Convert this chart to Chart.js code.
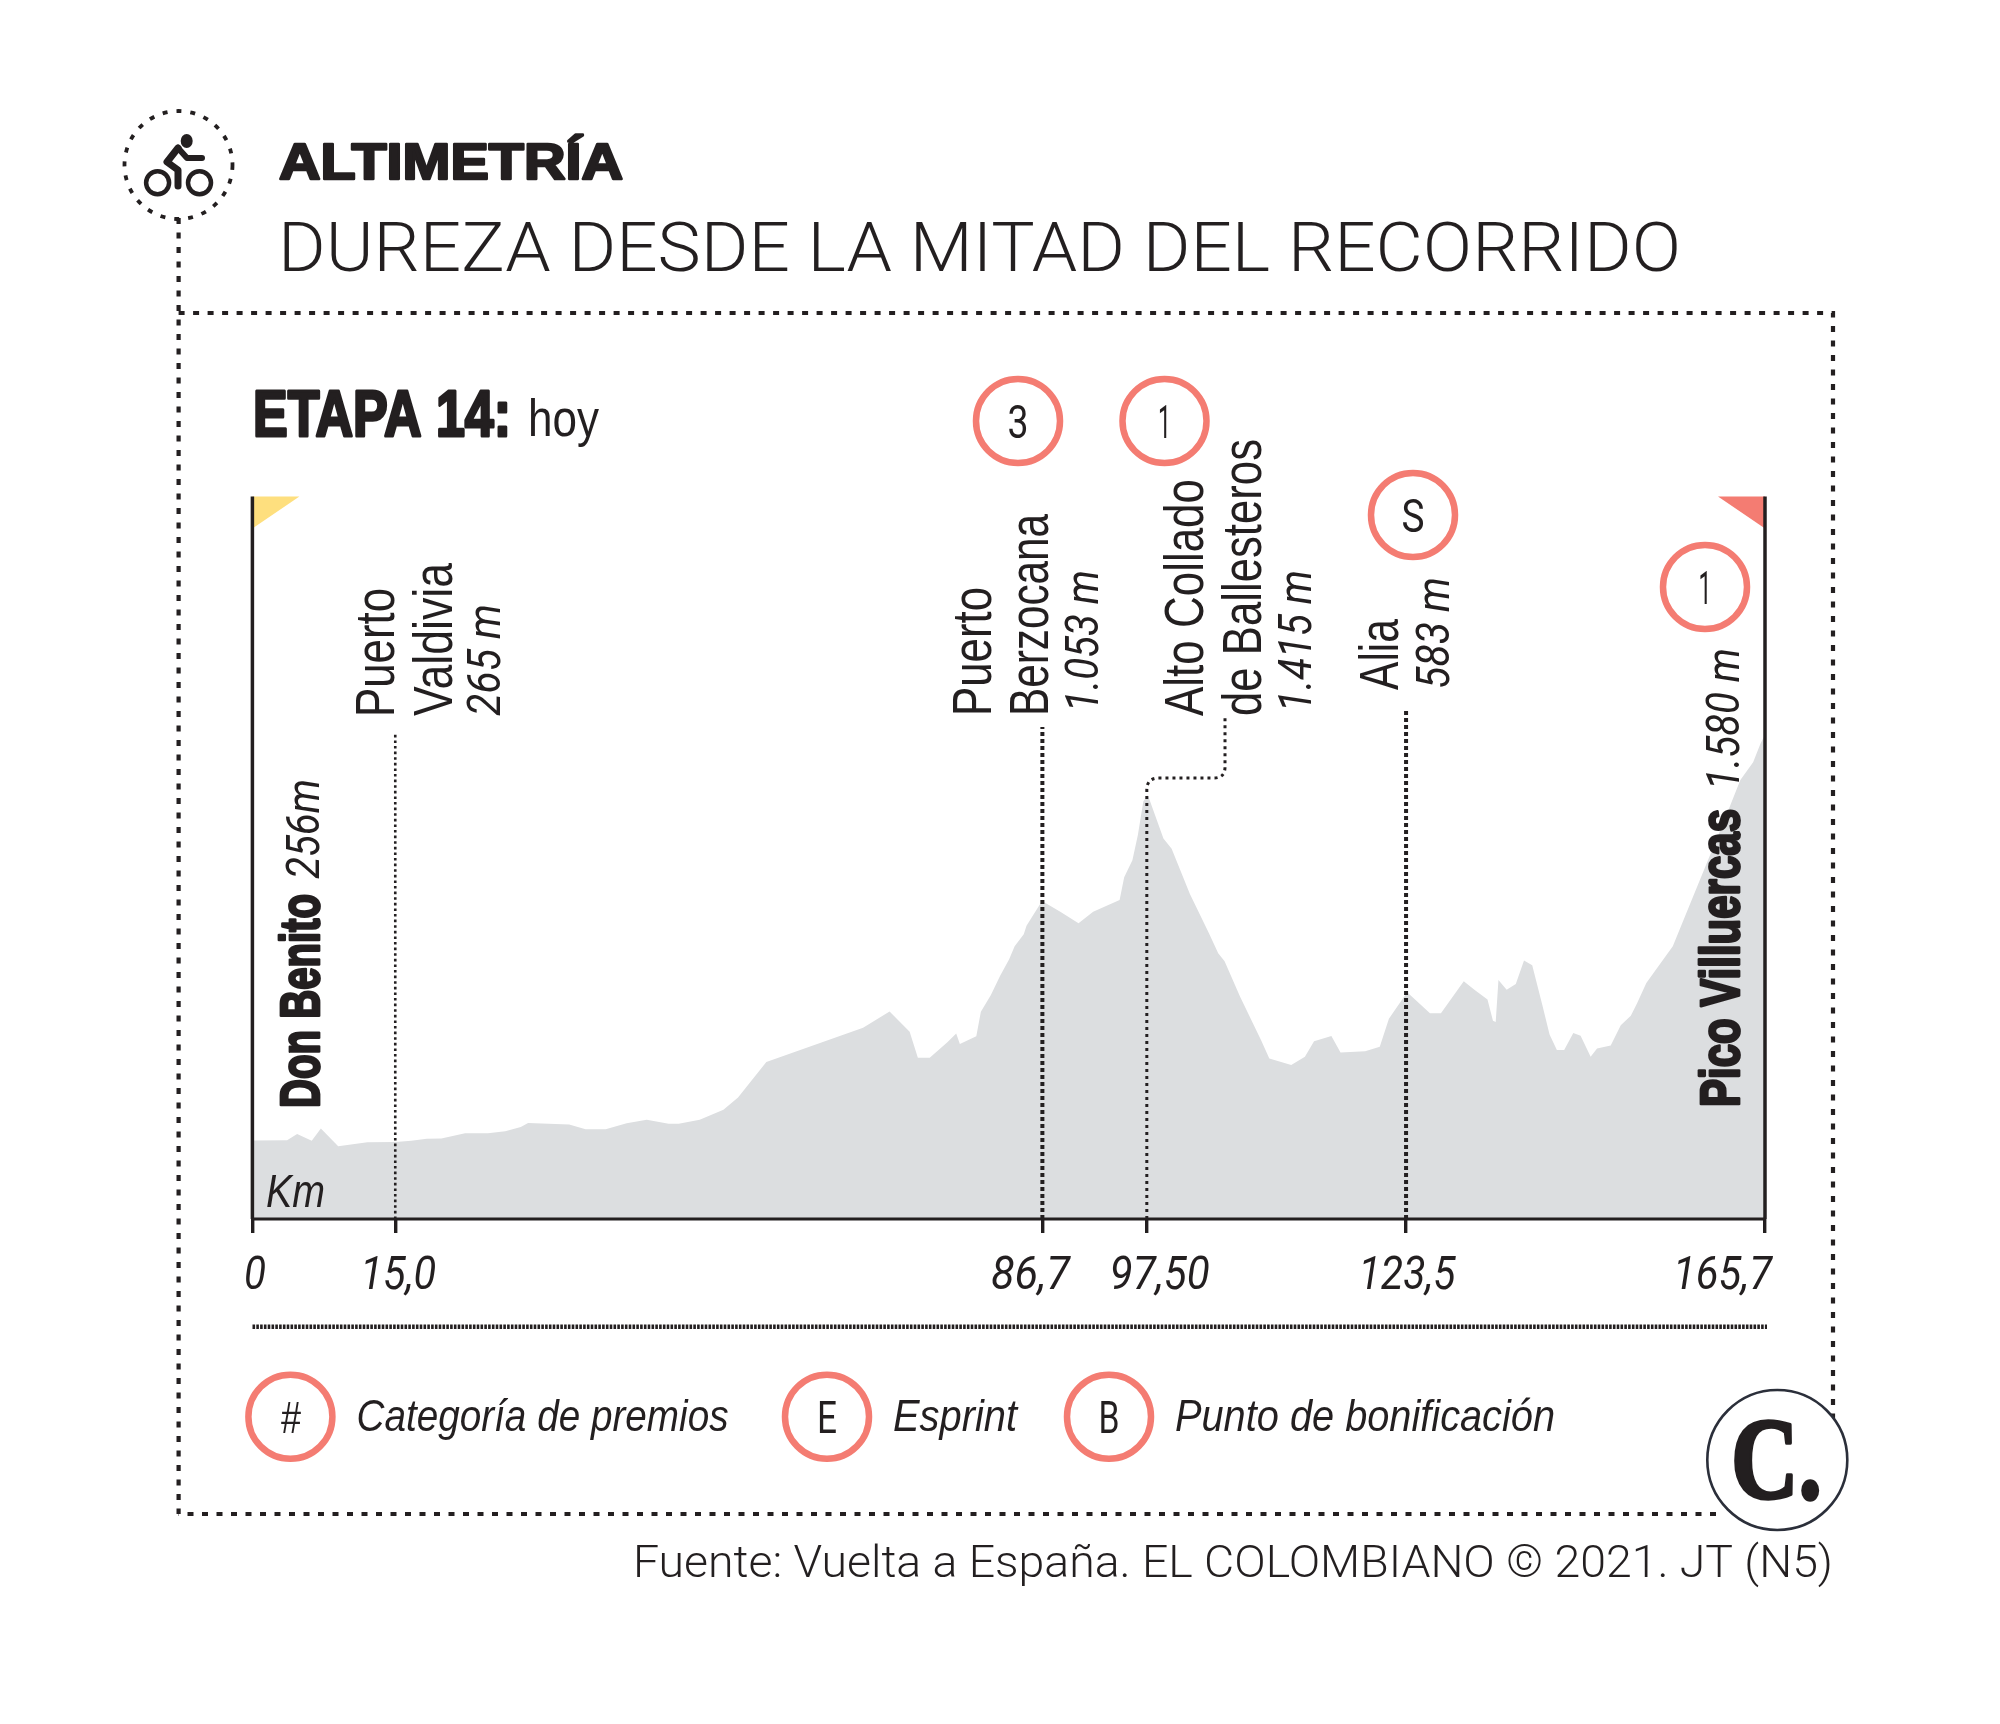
<!DOCTYPE html>
<html lang="es">
<head>
<meta charset="utf-8">
<title>Altimetría etapa 14</title>
<script src="https://cdn.jsdelivr.net/npm/chart.js@4/dist/chart.umd.min.js"></script>
<style>
    html, body { margin: 0; padding: 0; background: #fff; }
    canvas { display: block; }
</style>
</head>
<body>
<canvas id="profileChart" width="2000" height="1724"></canvas>
<script>
// Profile: km along the stage, altitude in metres
const profileKm = [0, 3.8, 4.9, 6.5, 7.5, 9.4, 12.6, 15.7, 17.4, 19.1, 20.7, 23.3, 25.8, 27.7, 29.4, 30.2, 34.7, 36.5, 38.7, 41.0, 43.2, 45.6, 46.7, 49.0, 51.6, 53.2, 56.3, 66.9, 69.8, 72.0, 72.9, 74.2, 76.1, 77.1, 77.5, 79.3, 79.8, 80.9, 81.9, 82.9, 83.5, 84.5, 84.8, 86.5, 88.5, 90.5, 92.1, 95.0, 95.5, 96.4, 97.0, 97.6, 98.1, 99.8, 100.7, 102.7, 104.8, 105.8, 106.5, 108.2, 110.5, 111.4, 113.8, 115.3, 116.3, 118.2, 119.2, 121.9, 123.5, 124.5, 126.5, 129.0, 130.2, 132.7, 133.9, 135.3, 135.9, 136.2, 136.5, 137.4, 138.4, 139.3, 140.2, 141.3, 142.1, 142.9, 143.7, 144.7, 145.5, 146.6, 147.3, 148.8, 149.9, 151.0, 151.7, 152.7, 155.6, 157.4, 160.2, 161.9, 163.0, 164.4, 165.2, 165.7];
const profileAlt = [256, 257, 277, 255, 295, 237, 250, 251, 255, 262, 263, 280, 280, 286, 300, 313, 308, 293, 293, 312, 324, 311, 311, 324, 356, 396, 512, 624, 677, 611, 526, 526, 576, 605, 571, 596, 676, 731, 793, 847, 890, 929, 957, 1037, 1002, 965, 1002, 1041, 1115, 1170, 1253, 1363, 1382, 1241, 1208, 1060, 931, 867, 841, 725, 583, 524, 502, 529, 580, 597, 543, 547, 562, 653, 740, 671, 671, 776, 747, 716, 647, 643, 780, 748, 767, 843, 828, 699, 602, 551, 551, 607, 598, 529, 556, 566, 632, 663, 705, 770, 890, 1021, 1225, 1350, 1432, 1490, 1550, 1580];

// The printed km marks are not quite to scale, so the tick sits where it was drawn
const tickKm = [0, 15.65, 86.54, 97.98, 126.38, 165.7];
const tickLabels = ['0', '15,0', '86,7', '97,50', '123,5', '165,7'];
const altMax = 2357;

const INK = '#231f20';
const CORAL = '#f47c72';
const SAND = '#fedf7e';

function fitText(ctx, str, x, y, font, width, opts) {
    opts = opts || {};
    ctx.save();
    ctx.font = font;
    const scaleX = width / ctx.measureText(str).width;
    ctx.translate(x, y);
    if (opts.vertical) ctx.rotate(-Math.PI / 2);
    ctx.scale(scaleX, 1);
    ctx.fillStyle = INK;
    ctx.textBaseline = 'alphabetic';
    ctx.textAlign = 'left';
    ctx.fillText(str, 0, 0);
    if (opts.stroke) {
        ctx.strokeStyle = INK;
        ctx.lineWidth = opts.stroke;
        ctx.lineJoin = 'round';
        ctx.strokeText(str, 0, 0);
    }
    ctx.restore();
}

function dotted(ctx, points, width, dash) {
    ctx.save();
    ctx.strokeStyle = INK;
    ctx.lineWidth = width;
    ctx.setLineDash(dash);
    ctx.beginPath();
    points.forEach((p, i) => i ? ctx.lineTo(p[0], p[1]) : ctx.moveTo(p[0], p[1]));
    ctx.stroke();
    ctx.restore();
}

function badge(ctx, x, y, str, font, width) {
    ctx.save();
    ctx.strokeStyle = CORAL;
    ctx.lineWidth = 6.5;
    ctx.beginPath();
    ctx.arc(x, y, 42, 0, Math.PI * 2);
    ctx.stroke();
    ctx.restore();
    fitText(ctx, str, x - width / 2, y + 16.5, font, width);
}

function drawIcon(ctx) {
    ctx.save();
    ctx.strokeStyle = INK;
    ctx.lineWidth = 3.8;
    ctx.setLineDash([5, 9]);
    ctx.beginPath();
    ctx.arc(178.5, 165, 54, 0, Math.PI * 2);
    ctx.stroke();
    ctx.setLineDash([]);
    ctx.lineWidth = 4.5;
    [157.6, 199.5].forEach(x => {
        ctx.beginPath();
        ctx.arc(x, 182.7, 11.5, 0, Math.PI * 2);
        ctx.stroke();
    });
    ctx.lineCap = 'round';
    ctx.lineJoin = 'round';
    ctx.lineWidth = 7;
    ctx.beginPath();
    ctx.moveTo(178, 148);
    ctx.lineTo(167, 162);
    ctx.lineTo(178, 170);
    ctx.lineTo(178, 186);
    ctx.stroke();
    ctx.lineWidth = 6;
    ctx.beginPath();
    ctx.moveTo(178, 148);
    ctx.lineTo(187, 158);
    ctx.lineTo(202, 158);
    ctx.stroke();
    ctx.fillStyle = INK;
    ctx.beginPath();
    ctx.ellipse(186.7, 141, 6, 7, 0, 0, Math.PI * 2);
    ctx.fill();
    ctx.restore();
}

const pagePlugin = {
    id: 'pagePlugin',
    afterDraw(chart) {
        const ctx = chart.ctx;
        const x = chart.scales.x;
        const area = chart.chartArea;
        const dash = [6, 8.5];
        const SANS = '"Liberation Sans"';

        // Page frame
        dotted(ctx, [[178.6, 218], [178.6, 1514]], 4.2, dash);
        dotted(ctx, [[178.6, 313], [1833, 313], [1833, 1420]], 4.2, dash);
        dotted(ctx, [[1716, 1514], [178.6, 1514]], 4.2, dash);
        drawIcon(ctx);

        // Headings
        fitText(ctx, 'ALTIMETRÍA', 279, 179, 'bold 50px ' + SANS, 344, { stroke: 2.4 });
        fitText(ctx, 'DUREZA DESDE LA MITAD DEL RECORRIDO', 278, 270.7, '300 68px Roboto', 1403);
        fitText(ctx, 'ETAPA 14:', 253, 435.7, 'bold 64px ' + SANS, 258, { stroke: 3 });
        fitText(ctx, 'hoy', 528, 435.7, '52px ' + SANS, 71);

        // Start and finish flags, end walls of the profile
        ctx.save();
        ctx.fillStyle = SAND;
        ctx.beginPath();
        ctx.moveTo(area.left, area.top);
        ctx.lineTo(area.left + 47, area.top);
        ctx.lineTo(area.left, area.top + 32);
        ctx.fill();
        ctx.fillStyle = CORAL;
        ctx.beginPath();
        ctx.moveTo(area.right, area.top);
        ctx.lineTo(area.right - 47, area.top);
        ctx.lineTo(area.right, area.top + 32);
        ctx.fill();
        ctx.strokeStyle = INK;
        ctx.lineWidth = 3.5;
        [area.left, area.right].forEach(px => {
            ctx.beginPath();
            ctx.moveTo(px, area.top);
            ctx.lineTo(px, area.bottom);
            ctx.stroke();
        });
        ctx.lineWidth = 3;
        ctx.beginPath();
        ctx.moveTo(area.left, area.bottom);
        ctx.lineTo(area.right, area.bottom);
        ctx.stroke();
        ctx.restore();

        // Leader lines from the km marks up to the names
        dotted(ctx, [[x.getPixelForValue(tickKm[1]), area.bottom], [x.getPixelForValue(tickKm[1]), 733]], 2.6, [2.6, 3]);
        dotted(ctx, [[x.getPixelForValue(tickKm[2]), area.bottom], [x.getPixelForValue(tickKm[2]), 727]], 4, [4, 3]);
        dotted(ctx, [[x.getPixelForValue(tickKm[4]), area.bottom], [x.getPixelForValue(tickKm[4]), 708]], 4, [4, 3]);
        const px = x.getPixelForValue(tickKm[3]);
        ctx.save();
        ctx.strokeStyle = INK;
        ctx.lineWidth = 3;
        ctx.setLineDash([3, 4]);
        ctx.beginPath();
        ctx.moveTo(px, area.bottom);
        ctx.lineTo(px, 790);
        ctx.quadraticCurveTo(px, 778, px + 12, 778);
        ctx.lineTo(1214, 778);
        ctx.quadraticCurveTo(1225, 778, 1225, 767);
        ctx.lineTo(1225, 718);
        ctx.stroke();
        ctx.restore();

        // Place names
        const NAME = '56px ' + SANS;
        const ALT = 'italic 46px Roboto';
        const BOLD = 'bold 55px ' + SANS;
        const v = { vertical: true };
        const heavy = { vertical: true, stroke: 2.8 };
        fitText(ctx, 'Don Benito', 319.3, 1108, BOLD, 214, heavy);
        fitText(ctx, '256m', 319.3, 879, ALT, 100, v);
        fitText(ctx, 'Puerto', 394, 717, NAME, 129, v);
        fitText(ctx, 'Valdivia', 452, 716, NAME, 153, v);
        fitText(ctx, '265 m', 500, 716, ALT, 112, v);
        fitText(ctx, 'Puerto', 991, 716, NAME, 129, v);
        fitText(ctx, 'Berzocana', 1048, 716, NAME, 202, v);
        fitText(ctx, '1.053 m', 1098.4, 712, ALT, 142, v);
        fitText(ctx, 'Alto Collado', 1203.4, 716, NAME, 237, v);
        fitText(ctx, 'de Ballesteros', 1261, 716, NAME, 277, v);
        fitText(ctx, '1.415 m', 1311, 712, ALT, 142, v);
        fitText(ctx, 'Alia', 1397.5, 690, NAME, 71, v);
        fitText(ctx, '583 m', 1448.6, 689, ALT, 112, v);
        fitText(ctx, 'Pico Villuercas', 1739, 1107, BOLD, 298, heavy);
        fitText(ctx, '1.580 m', 1739, 790, ALT, 142, v);
        fitText(ctx, 'Km', 266, 1207, 'italic 47px ' + SANS, 59);

        // Category badges
        const BADGE = '47px Roboto';
        badge(ctx, 1018, 421, '3', BADGE, 21);
        badge(ctx, 1164.5, 421, '1', BADGE, 13);
        badge(ctx, 1413, 515, 'S', BADGE, 23);
        badge(ctx, 1705, 587, '1', BADGE, 13);

        // Km labels: each one is nudged off its tick, as in the print
        const labelShift = [2.6, 3, -12, 13, 1, -42.5];
        const labelWidth = [22, 76, 79, 100, 97, 99];
        const TICK = 'italic 46px Roboto';
        tickLabels.forEach((label, i) => {
            const cx = x.getPixelForValue(tickKm[i]) + labelShift[i];
            fitText(ctx, label, cx - labelWidth[i] / 2, 1289, TICK, labelWidth[i]);
        });

        dotted(ctx, [[252.5, 1326.7], [1767, 1326.7]], 4.5, [2.6, 1.2]);

        // Legend
        const LEG = 'italic 45px ' + SANS;
        badge(ctx, 290.4, 1416.7, '#', 'italic 45px ' + SANS, 20);
        fitText(ctx, 'Categoría de premios', 356.5, 1430.7, LEG, 372);
        badge(ctx, 827, 1416.7, 'E', '45px Roboto', 20);
        fitText(ctx, 'Esprint', 893, 1430.7, LEG, 124);
        badge(ctx, 1109, 1416.7, 'B', '45px Roboto', 21);
        fitText(ctx, 'Punto de bonificación', 1175, 1430.7, LEG, 380);

        // Masthead logo
        ctx.save();
        ctx.fillStyle = '#fff';
        ctx.strokeStyle = '#2b2f3a';
        ctx.lineWidth = 2.6;
        ctx.beginPath();
        ctx.arc(1777.3, 1460, 70, 0, Math.PI * 2);
        ctx.fill();
        ctx.stroke();
        ctx.restore();
        fitText(ctx, 'C.', 1731, 1498, 'bold 117px "Liberation Serif"', 91, { stroke: 3.5 });

        fitText(ctx, 'Fuente: Vuelta a España. EL COLOMBIANO © 2021. JT (N5)', 633, 1577, '300 44px Roboto', 1200);
    }
};

document.addEventListener('DOMContentLoaded', function() {
    new Chart(document.getElementById('profileChart'), {
        type: 'line',
        data: {
            datasets: [{
                label: 'Altitud',
                data: profileKm.map((km, i) => ({ x: km, y: profileAlt[i] })),
                backgroundColor: '#dcdee0',
                borderWidth: 0,
                pointRadius: 0,
                tension: 0,
                fill: 'origin'
            }]
        },
        options: {
            responsive: false,
            devicePixelRatio: 1,
            animation: false,
            events: [],
            layout: { padding: { left: 252.4, right: 235, top: 496.5, bottom: 491 } },
            plugins: { legend: { display: false }, tooltip: { enabled: false } },
            scales: {
                x: {
                    type: 'linear',
                    min: 0,
                    max: 165.7,
                    afterBuildTicks: axis => { axis.ticks = tickKm.map(v => ({ value: v })); },
                    ticks: { display: false },
                    border: { display: false },
                    grid: { drawOnChartArea: false, color: INK, lineWidth: 3.4, tickLength: 14 }
                },
                y: { display: false, min: 0, max: altMax }
            }
        },
        plugins: [pagePlugin]
    });
});
</script>
</body>
</html>
